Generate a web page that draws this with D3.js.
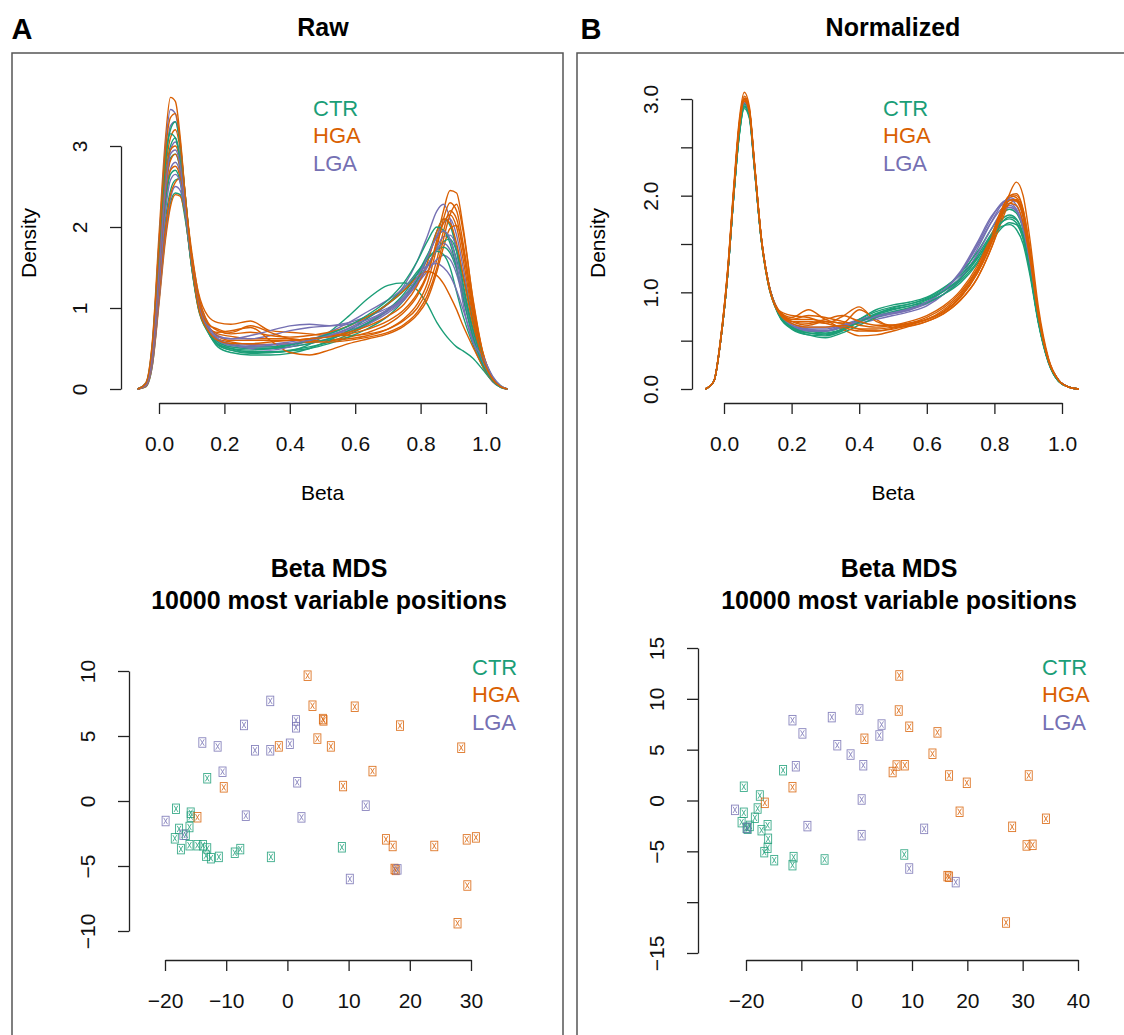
<!DOCTYPE html>
<html>
<head>
<meta charset="utf-8">
<script src="https://cdn.jsdelivr.net/npm/d3@7"></script>
<style>
  body { margin: 0; background: #fff; }
  svg text { font-family: "Liberation Sans", Arial, Helvetica, sans-serif; }
</style>
</head>
<body>
<div id="fig"></div>
<script>
////////////////////////////////////////////////////////////////////////
// Data

let groups = ["CTR", "HGA", "LGA"];
let groupColors = ["#1b9e77", "#d95f02", "#7570b3"];

// beta values where each density curve was read
let betaGridRaw = [-0.065, -0.04, -0.02, 0, 0.02, 0.035, 0.05, 0.065, 0.08, 0.1, 0.12, 0.15, 0.18, 0.22, 0.28, 0.34, 0.4, 0.46, 0.52, 0.58, 0.64, 0.7, 0.75, 0.79, 0.82, 0.85, 0.87, 0.89, 0.91, 0.93, 0.96, 0.99, 1.02, 1.045, 1.065];

let rawCTR = [
  [0, 0.05, 0.45, 1.5, 2.6, 3.0, 3.1, 2.85, 2.3, 1.55, 1.05, 0.72, 0.56, 0.5, 0.46, 0.46, 0.48, 0.52, 0.58, 0.67, 0.8, 0.98, 1.18, 1.42, 1.65, 1.88, 1.95, 1.85, 1.6, 1.25, 0.75, 0.35, 0.12, 0.03, 0],
  [0, 0.03, 0.3, 1.1, 1.9, 2.3, 2.42, 2.4, 2.1, 1.55, 1.08, 0.72, 0.55, 0.48, 0.45, 0.45, 0.47, 0.55, 0.7, 0.9, 1.12, 1.28, 1.31, 1.22, 1.05, 0.82, 0.7, 0.6, 0.52, 0.47, 0.38, 0.24, 0.1, 0.03, 0],
  [0, 0.05, 0.42, 1.4, 2.45, 2.85, 2.9, 2.7, 2.2, 1.5, 1.02, 0.7, 0.54, 0.48, 0.44, 0.45, 0.47, 0.5, 0.56, 0.64, 0.75, 0.9, 1.1, 1.35, 1.62, 1.95, 2.1, 2.02, 1.72, 1.3, 0.72, 0.32, 0.1, 0.02, 0],
  [0, 0.04, 0.35, 1.2, 2.1, 2.45, 2.58, 2.6, 2.3, 1.65, 1.12, 0.72, 0.52, 0.45, 0.42, 0.42, 0.44, 0.5, 0.6, 0.72, 0.88, 1.06, 1.25, 1.45, 1.6, 1.7, 1.66, 1.5, 1.2, 0.9, 0.55, 0.28, 0.1, 0.03, 0],
  [0, 0.06, 0.5, 1.65, 2.8, 3.2, 3.3, 3.0, 2.4, 1.6, 1.05, 0.72, 0.58, 0.52, 0.5, 0.5, 0.52, 0.56, 0.62, 0.7, 0.82, 0.98, 1.15, 1.35, 1.52, 1.72, 1.82, 1.85, 1.7, 1.38, 0.85, 0.42, 0.15, 0.04, 0],
  [0, 0.04, 0.38, 1.3, 2.3, 2.65, 2.7, 2.55, 2.15, 1.52, 1.06, 0.74, 0.6, 0.54, 0.52, 0.52, 0.55, 0.6, 0.68, 0.78, 0.9, 1.05, 1.22, 1.42, 1.6, 1.72, 1.75, 1.68, 1.48, 1.18, 0.72, 0.34, 0.11, 0.03, 0],
  [0, 0.07, 0.55, 1.75, 2.9, 3.15, 3.1, 2.8, 2.25, 1.5, 1.0, 0.7, 0.55, 0.5, 0.48, 0.5, 0.54, 0.6, 0.68, 0.78, 0.92, 1.1, 1.32, 1.58, 1.82, 2.0, 1.96, 1.8, 1.5, 1.12, 0.65, 0.3, 0.1, 0.02, 0]
];
let rawHGA = [
  [0, 0.08, 0.6, 1.9, 3.1, 3.6, 3.55, 3.1, 2.4, 1.55, 1.0, 0.72, 0.62, 0.58, 0.55, 0.55, 0.56, 0.58, 0.6, 0.64, 0.7, 0.8, 0.95, 1.15, 1.4, 1.85, 2.2, 2.45, 2.42, 2.0, 1.1, 0.45, 0.13, 0.03, 0],
  [0, 0.03, 0.3, 1.05, 1.85, 2.25, 2.4, 2.38, 2.15, 1.65, 1.2, 0.9, 0.82, 0.8, 0.84, 0.72, 0.7, 0.68, 0.66, 0.66, 0.68, 0.74, 0.85, 1.0, 1.22, 1.6, 1.95, 2.2, 2.1, 1.7, 0.95, 0.4, 0.12, 0.03, 0],
  [0, 0.06, 0.5, 1.6, 2.7, 3.1, 3.2, 2.95, 2.4, 1.62, 1.08, 0.78, 0.68, 0.65, 0.62, 0.62, 0.62, 0.6, 0.6, 0.62, 0.66, 0.74, 0.87, 1.05, 1.3, 1.75, 2.1, 2.3, 2.2, 1.8, 1.0, 0.42, 0.12, 0.03, 0],
  [0, 0.05, 0.4, 1.3, 2.3, 2.7, 2.75, 2.6, 2.15, 1.5, 1.05, 0.75, 0.7, 0.72, 0.76, 0.6, 0.45, 0.42, 0.48, 0.56, 0.62, 0.68, 0.78, 0.92, 1.1, 1.45, 1.75, 1.98, 2.02, 1.75, 1.05, 0.45, 0.14, 0.03, 0],
  [0, 0.05, 0.45, 1.5, 2.55, 2.95, 3.0, 2.8, 2.3, 1.6, 1.1, 0.78, 0.65, 0.6, 0.6, 0.6, 0.6, 0.62, 0.65, 0.7, 0.78, 0.9, 1.05, 1.28, 1.55, 1.95, 2.1, 2.05, 1.8, 1.4, 0.8, 0.36, 0.11, 0.03, 0],
  [0, 0.04, 0.35, 1.15, 2.0, 2.4, 2.55, 2.6, 2.3, 1.7, 1.18, 0.82, 0.72, 0.68, 0.7, 0.66, 0.64, 0.66, 0.7, 0.78, 0.9, 1.05, 1.22, 1.38, 1.45, 1.4, 1.3, 1.15, 0.98, 0.78, 0.52, 0.28, 0.1, 0.03, 0],
  [0, 0.05, 0.42, 1.4, 2.45, 2.82, 2.9, 2.72, 2.25, 1.58, 1.1, 0.8, 0.74, 0.7, 0.78, 0.7, 0.62, 0.58, 0.58, 0.6, 0.64, 0.7, 0.8, 0.95, 1.15, 1.5, 1.85, 2.15, 2.28, 1.95, 1.12, 0.46, 0.14, 0.03, 0],
  [0, 0.07, 0.58, 1.8, 2.95, 3.35, 3.4, 3.05, 2.4, 1.58, 1.02, 0.72, 0.6, 0.56, 0.56, 0.58, 0.6, 0.62, 0.64, 0.68, 0.74, 0.84, 0.98, 1.18, 1.42, 1.8, 2.05, 2.15, 2.0, 1.6, 0.9, 0.38, 0.12, 0.03, 0]
];
let rawLGA = [
  [0, 0.07, 0.55, 1.8, 3.0, 3.45, 3.4, 3.0, 2.35, 1.55, 1.02, 0.72, 0.6, 0.55, 0.52, 0.52, 0.55, 0.6, 0.66, 0.75, 0.88, 1.05, 1.28, 1.58, 1.88, 2.2, 2.28, 2.1, 1.7, 1.2, 0.62, 0.28, 0.09, 0.02, 0],
  [0, 0.06, 0.5, 1.65, 2.8, 3.25, 3.3, 3.0, 2.4, 1.6, 1.05, 0.74, 0.6, 0.56, 0.54, 0.55, 0.58, 0.62, 0.66, 0.72, 0.82, 0.96, 1.12, 1.35, 1.6, 1.9, 2.05, 2.1, 1.9, 1.5, 0.85, 0.38, 0.12, 0.03, 0],
  [0, 0.05, 0.4, 1.35, 2.35, 2.72, 2.8, 2.65, 2.2, 1.55, 1.08, 0.78, 0.66, 0.62, 0.62, 0.66, 0.72, 0.76, 0.78, 0.82, 0.9, 1.0, 1.12, 1.3, 1.45, 1.6, 1.65, 1.6, 1.42, 1.12, 0.7, 0.35, 0.12, 0.03, 0],
  [0, 0.05, 0.45, 1.5, 2.55, 2.95, 3.05, 2.85, 2.3, 1.58, 1.05, 0.74, 0.58, 0.52, 0.5, 0.5, 0.52, 0.56, 0.62, 0.7, 0.8, 0.94, 1.1, 1.3, 1.5, 1.75, 1.88, 1.9, 1.75, 1.4, 0.82, 0.38, 0.12, 0.03, 0],
  [0, 0.04, 0.32, 1.1, 1.95, 2.35, 2.5, 2.45, 2.2, 1.65, 1.15, 0.8, 0.62, 0.55, 0.5, 0.48, 0.52, 0.6, 0.7, 0.82, 0.96, 1.1, 1.25, 1.42, 1.52, 1.55, 1.5, 1.4, 1.22, 0.98, 0.6, 0.3, 0.1, 0.03, 0],
  [0, 0.04, 0.36, 1.25, 2.2, 2.58, 2.65, 2.55, 2.18, 1.55, 1.08, 0.78, 0.64, 0.62, 0.66, 0.72, 0.78, 0.8, 0.78, 0.8, 0.86, 0.98, 1.12, 1.32, 1.52, 1.72, 1.8, 1.72, 1.5, 1.15, 0.66, 0.32, 0.11, 0.03, 0],
  [0, 0.05, 0.44, 1.45, 2.5, 2.9, 2.95, 2.75, 2.25, 1.55, 1.05, 0.74, 0.6, 0.54, 0.52, 0.54, 0.56, 0.6, 0.66, 0.74, 0.84, 0.98, 1.15, 1.38, 1.62, 1.88, 1.95, 1.85, 1.55, 1.05, 0.58, 0.4, 0.16, 0.04, 0]
];

let betaGridNorm = [-0.055, -0.03, -0.01, 0.01, 0.03, 0.045, 0.06, 0.075, 0.09, 0.11, 0.13, 0.16, 0.2, 0.25, 0.3, 0.35, 0.4, 0.45, 0.5, 0.55, 0.6, 0.65, 0.7, 0.75, 0.79, 0.82, 0.845, 0.865, 0.885, 0.905, 0.93, 0.96, 0.99, 1.02, 1.05];

let normCTR = [
  [0, 0.08, 0.5, 1.15, 2.05, 2.65, 2.95, 2.85, 2.3, 1.55, 1.1, 0.78, 0.62, 0.56, 0.55, 0.6, 0.7, 0.78, 0.83, 0.86, 0.9, 0.98, 1.1, 1.3, 1.52, 1.66, 1.72, 1.7, 1.55, 1.22, 0.7, 0.28, 0.08, 0.02, 0],
  [0, 0.08, 0.5, 1.15, 2.05, 2.62, 2.92, 2.82, 2.28, 1.55, 1.12, 0.8, 0.64, 0.6, 0.6, 0.64, 0.72, 0.8, 0.85, 0.88, 0.93, 1.02, 1.15, 1.38, 1.6, 1.75, 1.8, 1.76, 1.6, 1.25, 0.7, 0.28, 0.08, 0.02, 0],
  [0, 0.08, 0.5, 1.15, 2.05, 2.62, 2.9, 2.8, 2.28, 1.56, 1.12, 0.8, 0.65, 0.6, 0.58, 0.62, 0.7, 0.78, 0.84, 0.88, 0.94, 1.04, 1.2, 1.42, 1.65, 1.8, 1.86, 1.82, 1.65, 1.28, 0.72, 0.29, 0.09, 0.02, 0],
  [0, 0.08, 0.5, 1.15, 2.05, 2.64, 2.93, 2.83, 2.3, 1.56, 1.1, 0.78, 0.63, 0.58, 0.57, 0.62, 0.72, 0.82, 0.87, 0.9, 0.95, 1.05, 1.18, 1.36, 1.55, 1.68, 1.7, 1.65, 1.5, 1.18, 0.68, 0.27, 0.08, 0.02, 0],
  [0, 0.08, 0.5, 1.15, 2.05, 2.65, 2.95, 2.85, 2.3, 1.55, 1.1, 0.79, 0.63, 0.56, 0.53, 0.58, 0.66, 0.74, 0.8, 0.84, 0.89, 0.98, 1.12, 1.32, 1.56, 1.72, 1.78, 1.75, 1.58, 1.22, 0.7, 0.28, 0.08, 0.02, 0],
  [0, 0.08, 0.5, 1.15, 2.04, 2.63, 2.92, 2.82, 2.29, 1.55, 1.11, 0.79, 0.64, 0.58, 0.56, 0.61, 0.69, 0.77, 0.82, 0.86, 0.92, 1.01, 1.14, 1.35, 1.58, 1.72, 1.76, 1.72, 1.56, 1.22, 0.7, 0.28, 0.08, 0.02, 0]
];
let normHGA = [
  [0, 0.08, 0.52, 1.2, 2.15, 2.78, 3.07, 2.92, 2.35, 1.58, 1.12, 0.82, 0.74, 0.82, 0.72, 0.68, 0.82, 0.72, 0.64, 0.65, 0.7, 0.78, 0.92, 1.15, 1.45, 1.75, 2.02, 2.14, 2.0, 1.55, 0.85, 0.32, 0.09, 0.02, 0],
  [0, 0.08, 0.52, 1.18, 2.1, 2.72, 3.0, 2.88, 2.33, 1.58, 1.13, 0.82, 0.72, 0.72, 0.7, 0.68, 0.62, 0.6, 0.62, 0.66, 0.72, 0.8, 0.95, 1.2, 1.5, 1.8, 1.98, 2.0, 1.85, 1.45, 0.8, 0.3, 0.09, 0.02, 0],
  [0, 0.08, 0.5, 1.16, 2.08, 2.7, 2.98, 2.86, 2.32, 1.57, 1.12, 0.82, 0.7, 0.66, 0.7, 0.62, 0.55, 0.56, 0.6, 0.65, 0.7, 0.78, 0.92, 1.15, 1.45, 1.72, 1.92, 1.95, 1.8, 1.42, 0.78, 0.3, 0.09, 0.02, 0],
  [0, 0.08, 0.52, 1.2, 2.12, 2.75, 3.03, 2.9, 2.34, 1.58, 1.12, 0.8, 0.7, 0.7, 0.68, 0.75, 0.85, 0.7, 0.66, 0.68, 0.74, 0.84, 1.0, 1.25, 1.55, 1.82, 1.96, 1.94, 1.78, 1.38, 0.76, 0.29, 0.09, 0.02, 0],
  [0, 0.08, 0.5, 1.17, 2.1, 2.72, 3.0, 2.88, 2.33, 1.58, 1.12, 0.82, 0.72, 0.76, 0.74, 0.7, 0.66, 0.64, 0.66, 0.7, 0.76, 0.86, 1.02, 1.28, 1.58, 1.85, 2.0, 1.98, 1.82, 1.42, 0.78, 0.3, 0.09, 0.02, 0],
  [0, 0.08, 0.5, 1.16, 2.08, 2.7, 2.98, 2.86, 2.32, 1.56, 1.1, 0.8, 0.68, 0.64, 0.64, 0.66, 0.62, 0.62, 0.64, 0.68, 0.72, 0.8, 0.95, 1.2, 1.5, 1.78, 1.92, 1.9, 1.72, 1.35, 0.75, 0.29, 0.09, 0.02, 0],
  [0, 0.08, 0.51, 1.18, 2.1, 2.72, 3.01, 2.88, 2.33, 1.58, 1.12, 0.82, 0.76, 0.74, 0.68, 0.64, 0.6, 0.6, 0.63, 0.67, 0.72, 0.8, 0.96, 1.22, 1.52, 1.8, 1.95, 1.96, 1.8, 1.4, 0.78, 0.3, 0.09, 0.02, 0],
  [0, 0.08, 0.5, 1.17, 2.1, 2.72, 3.0, 2.88, 2.33, 1.57, 1.12, 0.8, 0.7, 0.68, 0.72, 0.76, 0.7, 0.66, 0.66, 0.68, 0.72, 0.82, 0.98, 1.24, 1.55, 1.83, 2.0, 2.02, 1.86, 1.45, 0.8, 0.3, 0.09, 0.02, 0]
];
let normLGA = [
  [0, 0.08, 0.5, 1.16, 2.08, 2.7, 2.98, 2.86, 2.32, 1.57, 1.12, 0.8, 0.66, 0.62, 0.6, 0.64, 0.7, 0.76, 0.8, 0.84, 0.9, 1.02, 1.2, 1.48, 1.72, 1.86, 1.9, 1.85, 1.66, 1.28, 0.72, 0.29, 0.09, 0.02, 0],
  [0, 0.08, 0.5, 1.16, 2.08, 2.7, 2.97, 2.85, 2.32, 1.57, 1.12, 0.8, 0.66, 0.62, 0.62, 0.66, 0.68, 0.72, 0.76, 0.8, 0.86, 0.98, 1.16, 1.45, 1.72, 1.9, 1.98, 1.95, 1.78, 1.38, 0.76, 0.3, 0.09, 0.02, 0],
  [0, 0.08, 0.5, 1.15, 2.06, 2.68, 2.95, 2.84, 2.3, 1.56, 1.12, 0.8, 0.66, 0.6, 0.6, 0.66, 0.72, 0.76, 0.78, 0.82, 0.88, 0.98, 1.14, 1.4, 1.65, 1.82, 1.88, 1.84, 1.66, 1.28, 0.72, 0.28, 0.09, 0.02, 0],
  [0, 0.08, 0.5, 1.16, 2.06, 2.68, 2.96, 2.85, 2.3, 1.56, 1.12, 0.8, 0.68, 0.64, 0.64, 0.66, 0.7, 0.74, 0.78, 0.82, 0.9, 1.02, 1.22, 1.52, 1.78, 1.9, 1.92, 1.86, 1.68, 1.3, 0.72, 0.29, 0.09, 0.02, 0],
  [0, 0.08, 0.5, 1.16, 2.07, 2.69, 2.97, 2.85, 2.31, 1.57, 1.12, 0.8, 0.66, 0.61, 0.6, 0.64, 0.7, 0.75, 0.79, 0.83, 0.9, 1.02, 1.2, 1.5, 1.76, 1.92, 1.96, 1.9, 1.72, 1.32, 0.74, 0.29, 0.09, 0.02, 0]
];

let betaTicks = [0, 0.2, 0.4, 0.6, 0.8, 1.0];
let densityTicksRaw = [0, 1, 2, 3];
let densityTicksNorm = [0, 0.5, 1, 1.5, 2, 2.5, 3];
let densityLabelsNorm = [0, 1, 2, 3];

// MDS coordinates [dim1, dim2]
let mdsRawCTR = [[-13.1, 1.75], [-18.2, -0.6], [-15.8, -0.9], [-15.8, -1.2], [-16.0, -2.0], [-17.7, -2.15], [-18.4, -2.87], [-17.4, -3.7], [-16.0, -3.4], [-14.7, -3.4], [-13.8, -3.4], [-13.1, -3.65], [-13.3, -4.2], [-12.5, -4.4], [-11.2, -4.3], [-8.6, -3.98], [-7.7, -3.7], [-2.7, -4.3], [8.9, -3.56], [-16.6, -2.6]];
let mdsRawHGA = [[3.3, 9.64], [4.1, 7.33], [11.0, 7.25], [5.8, 6.3], [5.9, 6.2], [18.4, 5.8], [4.9, 4.8], [7.1, 4.2], [-1.4, 4.2], [28.4, 4.1], [13.9, 2.3], [-10.4, 1.05], [9.1, 1.15], [-14.7, -1.25], [16.1, -2.95], [17.2, -3.46], [24.0, -3.46], [29.3, -2.95], [30.8, -2.8], [17.5, -5.23], [17.7, -5.3], [29.4, -6.5], [27.8, -9.4]];
let mdsRawLGA = [[-2.8, 7.7], [-7.1, 5.85], [1.4, 6.2], [1.4, 5.67], [-13.9, 4.5], [-11.4, 4.2], [-5.3, 3.9], [-2.8, 3.9], [0.4, 4.4], [-10.6, 2.25], [1.6, 1.44], [12.8, -0.36], [-6.8, -1.13], [2.3, -1.26], [-19.9, -1.54], [-17.0, -2.6], [18.0, -5.26], [10.2, -6.0]];

let mdsNormCTR = [[-13.3, 2.98], [-20.4, 1.35], [-17.5, 0.49], [-17.9, -0.79], [-20.4, -1.21], [-18.4, -1.7], [-20.8, -2.13], [-19.9, -2.69], [-17.2, -2.92], [-16.1, -2.43], [-16.0, -3.77], [-16.1, -4.65], [-16.7, -5.08], [-14.9, -5.87], [-11.4, -5.57], [-11.6, -6.36], [-5.8, -5.8], [8.6, -5.31], [-19.7, -2.78], [-19.3, -2.5]];
let mdsNormHGA = [[7.7, 12.3], [7.6, 8.85], [9.5, 7.25], [14.6, 6.7], [1.4, 6.07], [13.7, 4.6], [7.2, 3.44], [8.7, 3.47], [6.5, 2.8], [16.7, 2.46], [19.9, 1.74], [31.1, 2.46], [-11.6, 1.31], [-16.6, -0.23], [18.6, -1.11], [34.2, -1.8], [28.1, -2.59], [30.7, -4.42], [31.8, -4.36], [16.4, -7.44], [16.7, -7.5], [27.0, -12.0]];
let mdsNormLGA = [[0.5, 8.95], [-4.5, 8.2], [-11.6, 7.9], [4.5, 7.47], [4.1, 6.4], [-9.8, 6.6], [-3.5, 5.44], [-1.1, 4.52], [1.2, 3.47], [-11.0, 3.37], [0.9, 0.1], [-22.0, -0.92], [-8.9, -2.52], [0.9, -3.41], [12.2, -2.79], [9.5, -6.69], [17.9, -8.03], [-19.8, -2.7]];

let mdsRawXTicks = [-20, -10, 0, 10, 20, 30];
let mdsRawYTicks = [-10, -5, 0, 5, 10];
let mdsNormXTicks = [-20, -10, 0, 10, 20, 30, 40];
let mdsNormXLabels = [-20, 0, 10, 20, 30, 40];
let mdsNormYTicks = [-15, -10, -5, 0, 5, 10, 15];
let mdsNormYLabels = [-15, -5, 0, 5, 10, 15];

////////////////////////////////////////////////////////////////////////
// Drawing

let width = 1124, height = 1035;
let font = '"Liberation Sans", Arial, Helvetica, sans-serif';
let axisColor = "#222";

let svg = d3.select("#fig").append("svg")
  .attr("width", width)
  .attr("height", height);

// minus sign like R uses
let fmtInt = d => (d < 0 ? "\u2212" + Math.abs(d) : "" + d);

function styleAxis(g, fontSize) {
  g.attr("font-size", fontSize).attr("font-family", font);
  g.selectAll("path, line").attr("stroke", axisColor).attr("stroke-width", 1.3);
  g.selectAll("text").attr("fill", "#111");
}

function bottomAxis(x, ticks, labels, fmt, axisY) {
  let g = svg.append("g")
    .attr("transform", "translate(0," + axisY + ")")
    .call(d3.axisBottom(x).tickValues(ticks).tickSize(11).tickSizeOuter(0)
      .tickFormat(d => labels.indexOf(d) >= 0 ? fmt(d) : ""));
  styleAxis(g, 21);
  g.selectAll("text").attr("y", 41).attr("dy", "0.35em");
}

function leftAxis(y, ticks, labels, fmt, axisX) {
  let g = svg.append("g")
    .attr("transform", "translate(" + axisX + ",0)")
    .call(d3.axisLeft(y).tickValues(ticks).tickSize(11).tickSizeOuter(0)
      .tickFormat(d => labels.indexOf(d) >= 0 ? fmt(d) : ""));
  styleAxis(g, 21);
  // R draws y labels parallel to the axis
  g.selectAll("text")
    .attr("x", 0)
    .attr("y", -41)
    .attr("dy", "0.35em")
    .attr("text-anchor", "middle")
    .attr("transform", "rotate(-90)");
}

function addText(txt, x, y, size, opts) {
  opts = opts || {};
  return svg.append("text")
    .attr("x", x)
    .attr("y", y)
    .attr("dy", "0.35em")
    .attr("font-size", size)
    .attr("font-weight", opts.bold ? "bold" : "normal")
    .attr("text-anchor", opts.anchor || "middle")
    .attr("fill", opts.color || "#000")
    .attr("transform", opts.rotate ? "rotate(-90," + x + "," + y + ")" : null)
    .text(txt);
}

function legend(x, y, anchor) {
  groups.forEach((g, i) => {
    addText(g, x, y + i * 27.5, 22, { anchor: anchor, color: groupColors[i] });
  });
}

// panel frames
svg.append("rect").attr("x", 12).attr("y", 53).attr("width", 551).attr("height", 1000)
  .attr("fill", "none").attr("stroke", "#555").attr("stroke-width", 1.5);
svg.append("rect").attr("x", 577).attr("y", 53).attr("width", 560).attr("height", 1000)
  .attr("fill", "none").attr("stroke", "#555").attr("stroke-width", 1.5);

addText("A", 22, 29, 29, { bold: true });
addText("B", 591, 29, 29, { bold: true });
addText("Raw", 323, 27, 25, { bold: true });
addText("Normalized", 893, 27, 25, { bold: true });

function drawDensity(p) {
  let x = d3.scaleLinear().domain([0, 1]).range(p.xRange);
  let y = d3.scaleLinear().domain([0, 3]).range(p.yRange);

  let line = d3.line()
    .x((d, i) => x(p.grid[i]))
    .y(d => y(d))
    .curve(d3.curveMonotoneX);

  // interleave samples so no group sits completely on top
  let curves = [];
  let n = d3.max(p.series, s => s.length);
  for (let i = 0; i < n; i++) {
    p.series.forEach((s, gi) => {
      if (s[i]) curves.push({ values: s[i], color: groupColors[gi] });
    });
  }

  svg.append("g").selectAll("path")
    .data(curves)
    .enter()
    .append("path")
    .attr("d", d => line(d.values))
    .attr("fill", "none")
    .attr("stroke", d => d.color)
    .attr("stroke-width", 1.4)
    .attr("stroke-linejoin", "round");

  bottomAxis(x, betaTicks, betaTicks, d3.format(".1f"), p.axisY);
  leftAxis(y, p.yTicks, p.yLabels, p.yFmt, p.axisX);

  addText("Beta", (p.xRange[0] + p.xRange[1]) / 2, 493, 21);
  addText("Density", p.titleX, 243, 21, { rotate: true });
  legend(p.legendX, 108, "start");
}

drawDensity({
  grid: betaGridRaw,
  series: [rawCTR, rawHGA, rawLGA],
  xRange: [159, 486], yRange: [389, 146],
  axisY: 403, axisX: 121,
  yTicks: densityTicksRaw, yLabels: densityTicksRaw, yFmt: d3.format("d"),
  titleX: 29, legendX: 313
});

drawDensity({
  grid: betaGridNorm,
  series: [normCTR, normHGA, normLGA],
  xRange: [724, 1062], yRange: [389, 99],
  axisY: 403, axisX: 692,
  yTicks: densityTicksNorm, yLabels: densityLabelsNorm, yFmt: d3.format(".1f"),
  titleX: 598, legendX: 883
});

function drawMds(p) {
  let x = d3.scaleLinear().domain(d3.extent(p.xTicks)).range(p.xRange);
  let y = d3.scaleLinear().domain(d3.extent(p.yTicks)).range(p.yRange);

  addText("Beta MDS", p.titleX, 568, 25, { bold: true });
  addText("10000 most variable positions", p.titleX, 600, 25, { bold: true });

  // boxes with a cross, the glyph R fell back to
  let w = 7, h = 9.5, ins = 1.6;
  p.series.forEach((s, gi) => {
    let pts = svg.append("g").selectAll("g")
      .data(s)
      .enter()
      .append("g")
      .attr("transform", d => "translate(" + x(d[0]) + "," + y(d[1]) + ")")
      .attr("stroke", groupColors[gi])
      .attr("stroke-width", 0.9)
      .attr("fill", "none")
      .attr("opacity", 0.85);
    pts.append("rect")
      .attr("x", -w / 2).attr("y", -h / 2)
      .attr("width", w).attr("height", h);
    pts.append("path")
      .attr("d", "M" + (-w / 2 + ins) + "," + (-h / 2 + ins) + "L" + (w / 2 - ins) + "," + (h / 2 - ins) +
        "M" + (w / 2 - ins) + "," + (-h / 2 + ins) + "L" + (-w / 2 + ins) + "," + (h / 2 - ins));
  });

  bottomAxis(x, p.xTicks, p.xLabels, fmtInt, 960);
  leftAxis(y, p.yTicks, p.yLabels, fmtInt, p.axisX);
  legend(p.legendX, 667, "start");
}

// draw order: CTR, HGA, LGA
drawMds({
  series: [mdsRawCTR, mdsRawHGA, mdsRawLGA],
  xTicks: mdsRawXTicks, xLabels: mdsRawXTicks,
  yTicks: mdsRawYTicks, yLabels: mdsRawYTicks,
  xRange: [165, 471], yRange: [931, 671],
  axisX: 129, titleX: 329, legendX: 472
});

drawMds({
  series: [mdsNormCTR, mdsNormHGA, mdsNormLGA],
  xTicks: mdsNormXTicks, xLabels: mdsNormXLabels,
  yTicks: mdsNormYTicks, yLabels: mdsNormYLabels,
  xRange: [746, 1078], yRange: [953, 648],
  axisX: 698, titleX: 899, legendX: 1042
});
</script>
</body>
</html>
